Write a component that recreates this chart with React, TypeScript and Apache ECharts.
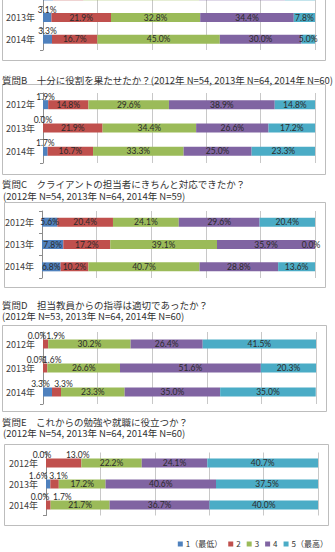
import React, { useEffect, useRef } from 'react';
import * as echarts from 'echarts';

const CATEGORIES = ['2012年', '2013年', '2014年'];
const LEVELS = ['1（最低）', '2', '3', '4', '5（最高）'];

// rows = years 2012, 2013, 2014; columns = levels 1..5 (%)
const Q_A = [
  [3.7, 11.1, 42.6, 31.5, 11.1],
  [3.1, 21.9, 32.8, 34.4, 7.8],
  [3.3, 16.7, 45.0, 30.0, 5.0],
];
const Q_B = [
  [1.9, 14.8, 29.6, 38.9, 14.8],
  [0.0, 21.9, 34.4, 26.6, 17.2],
  [1.7, 16.7, 33.3, 25.0, 23.3],
];
const Q_C = [
  [5.6, 20.4, 24.1, 29.6, 20.4],
  [7.8, 17.2, 39.1, 35.9, 0.0],
  [6.8, 10.2, 40.7, 28.8, 13.6],
];
const Q_D = [
  [0.0, 1.9, 30.2, 26.4, 41.5],
  [0.0, 1.6, 26.6, 51.6, 20.3],
  [3.3, 3.3, 23.3, 35.0, 35.0],
];
const Q_E = [
  [0.0, 13.0, 22.2, 24.1, 40.7],
  [1.6, 3.1, 17.2, 40.6, 37.5],
  [0.0, 1.7, 21.7, 36.7, 40.0],
];

const TITLES_B = ['質問B　十分に役割を果たせたか？(2012年 N=54, 2013年 N=64, 2014年 N=60)'];
const TITLES_C = ['質問C　クライアントの担当者にきちんと対応できたか？', '(2012年 N=54, 2013年 N=64, 2014年 N=59)'];
const TITLES_D = ['質問D　担当教員からの指導は適切であったか？', '(2012年 N=53, 2013年 N=64, 2014年 N=60)'];
const TITLES_E = ['質問E　これからの勉強や就職に役立つか？', '(2012年 N=54, 2013年 N=64, 2014年 N=60)'];

const COLORS = ['#4F81BD', '#C0504D', '#9BBB59', '#8064A2', '#4BACC6'];
const FONT = "'Noto Sans CJK JP', sans-serif";
const LABEL_FONT = "Lato, 'Noto Sans', sans-serif";

const QUESTIONS = [Q_A, Q_B, Q_C, Q_D, Q_E];
const GRIDS: any[] = [
  { left: 43, width: 272, top: -15, height: 65 },
  { left: 43, width: 272, top: 93, height: 70 },
  { left: 42, width: 273, top: 211, height: 67 },
  { left: 43, width: 273, top: 332, height: 72 },
  { left: 46, width: 272, top: 452.5, height: 63 },
];
const FRAMES = [
  { x: 2, y: -10, w: 323, h: 70 },
  { x: 2, y: 84, w: 323, h: 90 },
  { x: 4, y: 202, w: 321, h: 85 },
  { x: 2, y: 325, w: 324, h: 86 },
  { x: 4, y: 444, w: 324, h: 81 },
];
// the first (question A) chart is cropped at the top: its first row shows no texts
const CROPPED_CHART = 0;
const CROPPED_ROW = 0;
// horizontal nudges of labels placed above thin segments: key "question-row-level"
const LABEL_NUDGE: Record<string, number> = {
  '3-0-0': -6, '3-0-1': 10,
  '3-1-0': -7, '3-1-1': 7,
  '3-2-0': -7, '3-2-1': 7,
  '4-0-0': -4, '4-0-1': 14,
  '4-1-0': -10, '4-1-1': 4,
  '4-2-0': -6, '4-2-1': 14,
  '2-1-4': -4,
};

function buildOption() {
  const grid = GRIDS.map((g) => ({ ...g, containLabel: false, outerBoundsMode: 'none' }));
  const xAxis = GRIDS.map((_, i) => ({
    type: 'value',
    gridIndex: i,
    min: 0,
    max: 100,
    interval: 20,
    axisLabel: { show: false },
    axisLine: { show: false },
    axisTick: { show: false },
    splitLine: { show: true, lineStyle: { color: '#c8c8c8', width: 1 } },
  }));
  const yAxis = GRIDS.map((_, i) => ({
    type: 'category',
    gridIndex: i,
    data: CATEGORIES,
    inverse: true,
    axisLine: { show: true, lineStyle: { color: '#8c8c8c' } },
    axisTick: { show: true, length: 3, lineStyle: { color: '#8c8c8c' } },
    axisLabel: {
      color: '#404040',
      fontSize: 9,
      fontFamily: FONT,
      margin: 8,
      formatter: (v: string, idx: number) =>
        i === CROPPED_CHART && idx === CROPPED_ROW ? '' : v,
    },
  }));
  const series: any[] = [];
  QUESTIONS.forEach((rows, qi) => {
    LEVELS.forEach((name, si) => {
      series.push({
        type: 'bar',
        name,
        xAxisIndex: qi,
        yAxisIndex: qi,
        stack: 'q' + qi,
        barWidth: 9,
        itemStyle: { color: COLORS[si] },
        data: rows.map((r, ri) => {
          const v = r[si];
          const above = si <= 1 && (v < 4 || qi === 4);
          const dx = LABEL_NUDGE[`${qi}-${ri}-${si}`] || 0;
          const hidden = qi === CROPPED_CHART && ri === CROPPED_ROW;
          return {
            value: v,
            label: {
              show: !hidden,
              position: above ? 'top' : 'inside',
              distance: 0,
              offset: [dx, above ? 1 : 0],
              formatter: (p: any) => Number(p.value).toFixed(1) + '%',
              fontSize: 8.5,
              fontFamily: LABEL_FONT,
              color: '#2b2b2b',
            },
          };
        }),
      });
    });
  });

  const graphic: any[] = [];
  FRAMES.forEach((f) => {
    graphic.push({
      type: 'rect',
      shape: { x: f.x + 0.5, y: f.y + 0.5, width: f.w, height: f.h },
      style: { fill: 'none', stroke: '#bdbdbd', lineWidth: 1 },
      z: 0,
    });
  });
  const addText = (text: string, x: number, y: number) =>
    graphic.push({
      type: 'text',
      x,
      y,
      style: {
        text,
        fill: '#333',
        fontSize: 9.5,
        lineHeight: 10,
        fontFamily: FONT,
        verticalAlign: 'middle',
      },
    });
  addText(TITLES_B[0], 2, 80);
  addText(TITLES_C[0], 2, 184);
  addText(TITLES_C[1], 3, 195.5);
  addText(TITLES_D[0], 2, 304.5);
  addText(TITLES_D[1], 2, 316);
  addText(TITLES_E[0], 2, 421.5);
  addText(TITLES_E[1], 3, 433);

  return {
    animation: false,
    backgroundColor: '#ffffff',
    grid,
    xAxis,
    yAxis,
    series,
    graphic,
    legend: {
      data: LEVELS,
      right: 2,
      top: 535,
      icon: 'rect',
      itemWidth: 5,
      itemHeight: 5,
      itemGap: 6,
      textStyle: { fontSize: 8, color: '#333', fontFamily: FONT, padding: [0, 0, 0, -2] },
    },
  };
}

export default function App() {
  const ref = useRef<HTMLDivElement>(null);
  useEffect(() => {
    const chart = echarts.init(ref.current!, null, { renderer: 'svg' });
    chart.setOption(buildOption() as any);
    return () => chart.dispose();
  }, []);
  return (
    <div
      ref={ref}
      style={{ position: 'fixed', left: 0, top: 0, width: 335, height: 552 }}
    />
  );
}
